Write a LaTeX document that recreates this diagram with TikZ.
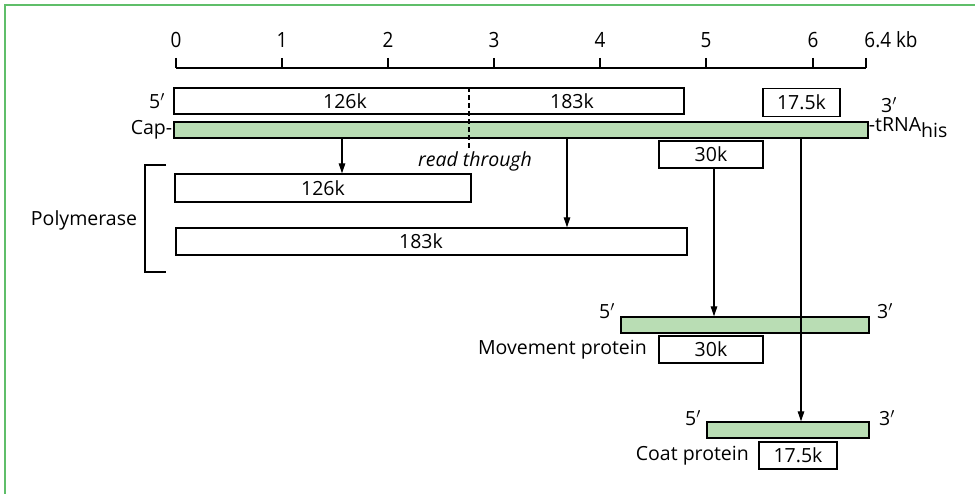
\documentclass[tikz,border=0pt]{standalone}
\usepackage{fontspec}
\setmainfont{Open Sans}
\usetikzlibrary{arrows.meta}
\definecolor{framegreen}{RGB}{95,190,105}
\definecolor{rnagreen}{RGB}{185,221,180}
\newcommand{\scaletext}[1]{\scalebox{0.9}[1]{\fontsize{21}{24}\selectfont #1}}
\tikzset{
  box/.style={draw, line width=1.3pt, fill=white, inner sep=0pt},
  rnabar/.style={draw, line width=1.3pt, fill=rnagreen, inner sep=0pt},
  lbl/.style={inner sep=0pt},
  scalelbl/.style={inner sep=0pt},
  arr/.style={line width=1.2pt, -{Triangle[length=10pt,width=6.5pt]}},
  thin/.style={line width=1.2pt}
}
\begin{document}
\begin{tikzpicture}[x=1pt,y=-1pt,font=\fontsize{19.5}{23}\selectfont]
\useasboundingbox (0,0) rectangle (975,494);
\draw[framegreen, line width=2.2pt] (5,494) -- (5,5) -- (975,5);

% scale bar
\coordinate (sL) at (176,68);
\coordinate (sR) at (866,68);
\draw[thin] (sL) -- (sR);
\foreach \x/\t in {176/0,282/1,388/2,494/3,600/4,706/5,813/6}{
  \draw[thin] (\x,58) -- (\x,68);
  \node[scalelbl] (s\t) at (\x,40) {\scaletext{\t}};
}
\draw[thin] (866,58) -- (866,68);
\node[scalelbl] (s64) at (891,40) {\scaletext{6.4 kb}};

% genomic RNA with ORFs
\node[box, minimum width=510pt, minimum height=26pt] (orf) at (429,101) {};
\node[lbl] (t126) at (345,101) {126k};
\node[lbl] (t183) at (572,101) {183k};
\node[box, minimum width=77pt, minimum height=28pt] (cp1) at (801.5,102.5) {17.5k};
\node[rnabar, minimum width=694pt, minimum height=16pt] (rna) at (521,130) {};
\node[lbl, anchor=east] (cap) at ([xshift=-1pt]rna.west) {Cap-};
\node[lbl, anchor=west] (trna) at ([xshift=0pt,yshift=2pt]rna.east) {-tRNA\raisebox{-6pt}{his}};
\node[lbl] (five1) at (157,101) {5$'$};
\node[lbl] (three1) at (889,105) {3$'$};
\node[box, minimum width=104pt, minimum height=27pt] (mp1) at (711,154.5) {30k};
\coordinate (rt) at (469,148);
\draw[line width=1.1pt, dash pattern=on 5pt off 3pt] (orf.north -| rt) -- (rt);
\node[lbl, font=\fontsize{19.5}{23}\selectfont\itshape] (readthrough) at (475,161) {read through};

% polymerase products
\node[box, minimum width=296pt, minimum height=28pt] (p126) at (323,188) {126k};
\node[box, minimum width=511pt, minimum height=27pt] (p183) at (431.5,241.5) {};
\node[lbl] (t183b) at (421,241.5) {183k};
\coordinate (brT) at (166,165);
\coordinate (brB) at (166,272);
\draw[thin] (brT) -- (145,165) -- (145,272) -- (brB);
\node[lbl] (poly) at (84,220) {Polymerase};

% movement protein
\node[rnabar, minimum width=248pt, minimum height=16pt] (mpbar) at (745,325) {};
\node[box, minimum width=104pt, minimum height=27pt] (mp2) at (711,349.5) {30k};
\node[lbl, anchor=east] (mplabel) at (647,350) {Movement protein};
\node[lbl] (five2) at (607,311) {5$'$};
\node[lbl] (three2) at (885,311) {3$'$};

% coat protein
\node[rnabar, minimum width=162pt, minimum height=16pt] (cpbar) at (788,430) {};
\node[box, minimum width=78pt, minimum height=27pt] (cp2) at (798,455.5) {17.5k};
\node[lbl, anchor=east] (cplabel) at (749,456) {Coat protein};
\node[lbl] (five3) at (693,418) {5$'$};
\node[lbl] (three3) at (887,418) {3$'$};

% arrows
\coordinate (a1) at (342,0);
\coordinate (a2) at (567,0);
\coordinate (a3) at (714,0);
\coordinate (a4) at (801,0);
\draw[arr] (rna.south -| a1) -- (p126.north -| a1);
\draw[arr] (rna.south -| a2) -- (p183.north -| a2);
\draw[arr] (mp1.south -| a3) -- (mpbar.north -| a3);
\draw[arr] (rna.south -| a4) -- (cpbar.north -| a4);
\end{tikzpicture}
\end{document}
